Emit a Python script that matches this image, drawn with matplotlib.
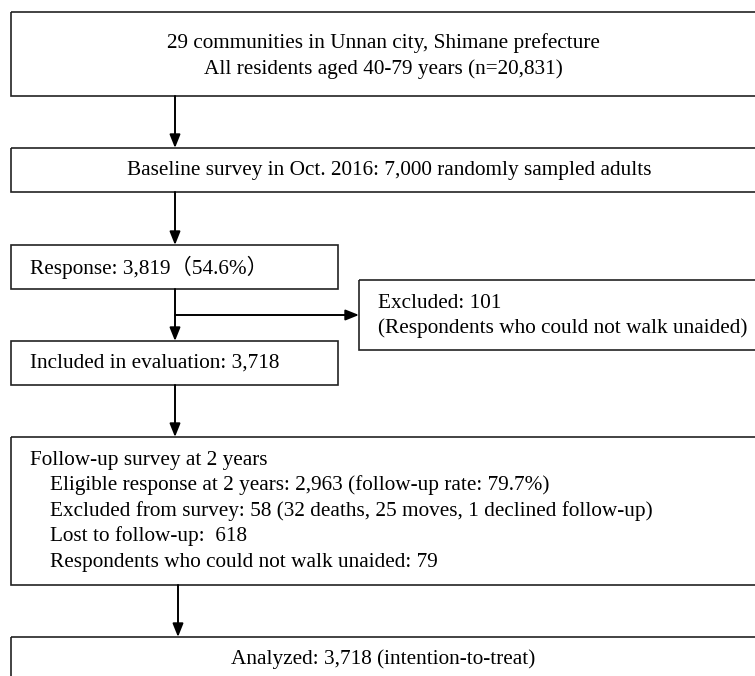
import matplotlib
matplotlib.use("Agg")
from matplotlib import pyplot as plt
from matplotlib.patches import Rectangle

plt.rcParams['font.family'] = ['Liberation Serif', 'Noto Sans CJK JP', 'DejaVu Serif']

# texts of the flow chart
top_lines = ["29 communities in Unnan city, Shimane prefecture",
             "All residents aged 40-79 years (n=20,831)"]
baseline_text = "Baseline survey in Oct. 2016: 7,000 randomly sampled adults"
response_text = "Response: 3,819（54.6%）"
excluded_lines = ["Excluded: 101",
                  "(Respondents who could not walk unaided)"]
included_text = "Included in evaluation: 3,718"
followup_title = "Follow-up survey at 2 years"
followup_items = ["Eligible response at 2 years: 2,963 (follow-up rate: 79.7%)",
                  "Excluded from survey: 58 (32 deaths, 25 moves, 1 declined follow-up)",
                  "Lost to follow-up:  618",
                  "Respondents who could not walk unaided: 79"]
analyzed_text = "Analyzed: 3,718 (intention-to-treat)"

W, H = 755, 676
fig = plt.figure(figsize=(W / 100, H / 100), dpi=100)
ax = fig.add_axes([0, 0, 1, 1])
ax.set_xlim(0, W)
ax.set_ylim(H, 0)
ax.axis('off')

FS = 15.3
EDGE = '#222222'


def box(x0, y0, x1, y1):
    ax.add_patch(Rectangle((x0, y0), x1 - x0, y1 - y0, fill=False,
                           edgecolor=EDGE, lw=1.2))


def arrow(x0, y0, x1, y1):
    ax.annotate('', xy=(x1, y1), xytext=(x0, y0),
                arrowprops=dict(arrowstyle='-|>,head_length=0.8,head_width=0.32',
                                color='black', lw=1.4, shrinkA=0, shrinkB=0))


# box 1
box(11, 12, 770, 96)
ax.text(383, 43, top_lines[0], ha='center', va='center', fontsize=FS)
ax.text(383, 69, top_lines[1], ha='center', va='center', fontsize=FS)
arrow(175, 96, 175, 148)

# box 2
box(11, 148, 770, 192)
ax.text(389, 170, baseline_text, ha='center', va='center', fontsize=FS)
arrow(175, 192, 175, 245)

# box 3
box(11, 245, 338, 289)
ax.text(30, 267, response_text, ha='left', va='center', fontsize=FS)
arrow(175, 289, 175, 341)
arrow(175, 315, 359, 315)

# excluded box
box(359, 280, 770, 350)
ax.text(378, 303, excluded_lines[0], ha='left', va='center', fontsize=FS)
ax.text(378, 328, excluded_lines[1], ha='left', va='center', fontsize=FS)

# box 5
box(11, 341, 338, 385)
ax.text(30, 363, included_text, ha='left', va='center', fontsize=FS)
arrow(175, 385, 175, 437)

# follow-up box
box(11, 437, 770, 585)
ax.text(30, 460, followup_title, ha='left', va='center', fontsize=FS)
for i, line in enumerate(followup_items):
    ax.text(50, 485.5 + i * 25.5, line, ha='left', va='center', fontsize=FS)
arrow(178, 585, 178, 637)

# analyzed box
box(11, 637, 770, 700)
ax.text(383, 659, analyzed_text, ha='center', va='center', fontsize=FS)

plt.savefig('out.png', dpi=100)
